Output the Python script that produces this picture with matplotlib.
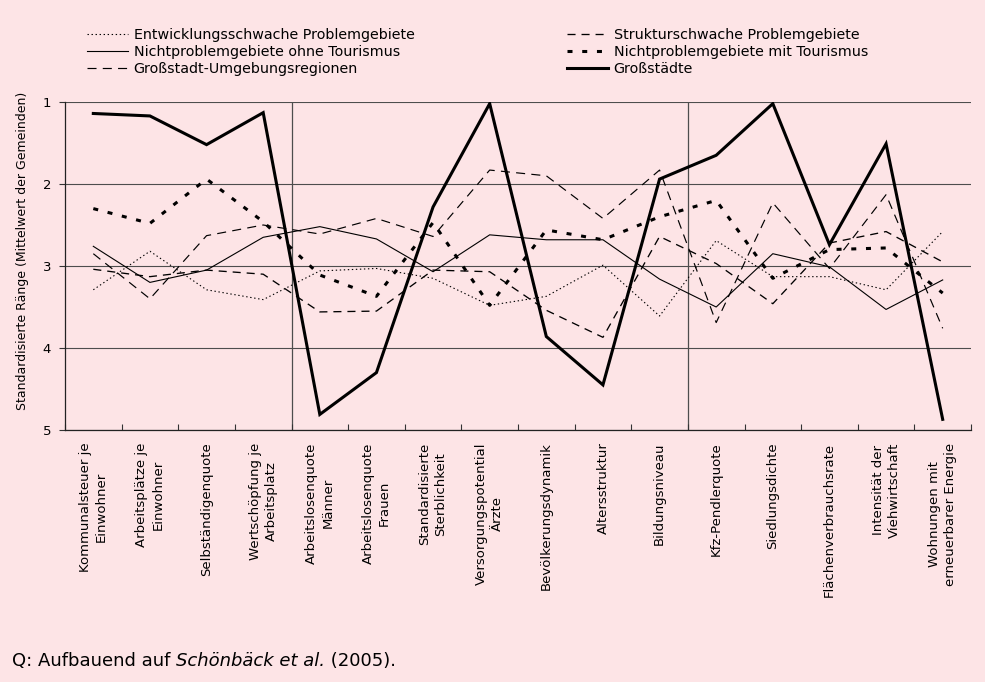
import matplotlib
matplotlib.use("Agg")
import matplotlib.pyplot as plt
import numpy as np

plt.rcParams["font.family"] = ["DejaVu Sans"]
plt.rcParams["lines.scale_dashes"] = False

# Indicators (x axis)
categories = [
    "Kommunalsteuer je\nEinwohner",
    "Arbeitsplätze je\nEinwohner",
    "Selbständigenquote",
    "Wertschöpfung je\nArbeitsplatz",
    "Arbeitslosenquote\nMänner",
    "Arbeitslosenquote\nFrauen",
    "Standardisierte\nSterblichkeit",
    "Versorgungspotential\nÄrzte",
    "Bevölkerungsdynamik",
    "Altersstruktur",
    "Bildungsniveau",
    "Kfz-Pendlerquote",
    "Siedlungsdichte",
    "Flächenverbrauchsrate",
    "Intensität der\nViehwirtschaft",
    "Wohnungen mit\nerneuerbarer Energie",
]

# Mean standardised ranks per region type
entwicklungsschwach = [3.29, 2.82, 3.29, 3.41, 3.06, 3.03, 3.15, 3.48, 3.37, 2.99, 3.61, 2.69, 3.13, 3.13, 3.29, 2.58]
strukturschwach = [3.04, 3.13, 3.05, 3.10, 3.56, 3.55, 3.05, 3.07, 3.54, 3.87, 2.64, 2.97, 3.46, 2.72, 2.58, 2.95]
ohne_tourismus = [2.76, 3.20, 3.05, 2.65, 2.52, 2.67, 3.07, 2.62, 2.68, 2.68, 3.16, 3.50, 2.85, 3.01, 3.53, 3.17]
mit_tourismus = [2.30, 2.48, 1.94, 2.46, 3.11, 3.37, 2.47, 3.48, 2.56, 2.68, 2.40, 2.20, 3.15, 2.80, 2.78, 3.33]
umgebung = [2.85, 3.40, 2.63, 2.50, 2.61, 2.42, 2.64, 1.83, 1.90, 2.42, 1.83, 3.69, 2.23, 3.03, 2.13, 3.76]
grossstaedte = [1.14, 1.17, 1.52, 1.13, 4.81, 4.30, 2.28, 1.02, 3.86, 4.45, 1.94, 1.65, 1.02, 2.74, 1.51, 4.87]

y_ticks = [1, 2, 3, 4, 5]
group_breaks = [4, 11]

BG = "#fde4e6"
W, H = 985, 682
fig = plt.figure(figsize=(W / 100, H / 100), dpi=100, facecolor=BG)

left, right, top, bottom = 65, 971, 102, 430
ax = fig.add_axes([left / W, 1 - bottom / H, (right - left) / W, (bottom - top) / H])
ax.set_facecolor(BG)

n = len(categories)
x = np.arange(n) + 0.5

series = [
    ("Entwicklungsschwache Problemgebiete", entwicklungsschwach,
     dict(lw=0.8, linestyle=(0, (1.0, 1.9)))),
    ("Strukturschwache Problemgebiete", strukturschwach,
     dict(lw=0.95, linestyle=(0, (5.8, 4.3)))),
    ("Nichtproblemgebiete ohne Tourismus", ohne_tourismus,
     dict(lw=0.8, linestyle="-")),
    ("Nichtproblemgebiete mit Tourismus", mit_tourismus,
     dict(lw=2.2, linestyle=(0, (3.6, 7.0)), dash_capstyle="butt")),
    ("Großstadt-Umgebungsregionen", umgebung,
     dict(lw=0.85, linestyle=(0, (6.5, 4.5)))),
    ("Großstädte", grossstaedte,
     dict(lw=2.2, linestyle="-")),
]

lines = {}
for name, vals, style in series:
    (ln,) = ax.plot(x, vals, color="black", solid_joinstyle="miter", zorder=3, **style)
    lines[name] = ln

# Axes, grid and separators
ax.set_xlim(0, n)
ax.set_ylim(5, 1)
ax.set_yticks(y_ticks)
ax.set_yticklabels([str(t) for t in y_ticks])
for t in y_ticks:
    ax.axhline(t, color="#4d4d4d", lw=0.8, zorder=1)
for b in group_breaks:
    ax.axvline(b, color="#4d4d4d", lw=0.9, zorder=1)

ax.set_xticks(np.arange(n + 1))
ax.set_xticklabels([])
ax.set_xticks(x, minor=True)
ax.set_xticklabels(categories, minor=True, rotation=90, fontsize=9.5,
                   linespacing=1.3, va="top", ha="center")
ax.tick_params(axis="x", which="major", direction="in", length=4, width=0.8, color="#333333")
ax.tick_params(axis="x", which="minor", length=0, pad=9)
ax.tick_params(axis="y", direction="out", length=4, width=0.8, color="#333333",
               labelsize=9.5, pad=6)

for s in ("top", "right"):
    ax.spines[s].set_visible(False)
for s in ("left", "bottom"):
    ax.spines[s].set_color("#222222")
    ax.spines[s].set_linewidth(0.9)

fig.text(23 / W, 1 - 251 / H, "Standardisierte Ränge (Mittelwert der Gemeinden)",
         rotation=90, ha="center", va="center", fontsize=9)

# Legend in two columns
left_names = ["Entwicklungsschwache Problemgebiete", "Nichtproblemgebiete ohne Tourismus",
              "Großstadt-Umgebungsregionen"]
right_names = ["Strukturschwache Problemgebiete", "Nichtproblemgebiete mit Tourismus",
               "Großstädte"]
for names, lx in ((left_names, 87), (right_names, 567)):
    fig.legend([lines[nm] for nm in names], names, loc="upper left",
               bbox_to_anchor=(lx / W, 1 - 28 / H), frameon=False, fontsize=10.3,
               handlelength=2.9, handletextpad=0.36, labelspacing=0.22,
               borderpad=0, borderaxespad=0)

# Source line
src_y = 1 - 670 / H
t1 = fig.text(12 / W, src_y, "Q: Aufbauend auf ", fontsize=13, va="bottom", ha="left")
t2 = fig.text(0, src_y, "Schönbäck et al.", fontsize=13, style="italic", va="bottom", ha="left")
t3 = fig.text(0, src_y, " (2005).", fontsize=13, va="bottom", ha="left")
fig.canvas.draw()
r = fig.canvas.get_renderer()
t2.set_x(t1.get_window_extent(r).x1 / W)
t3.set_x(t2.get_window_extent(r).x1 / W)

fig.savefig("out.png", dpi=100, facecolor=BG)
